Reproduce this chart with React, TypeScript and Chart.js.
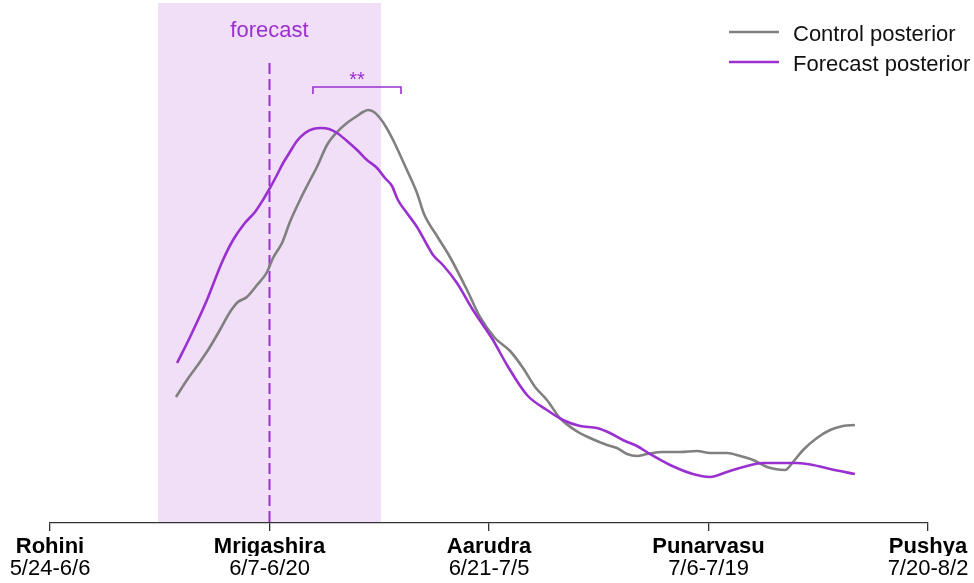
import React, { useEffect, useRef } from "react";
import { Chart, registerables } from "chart.js";

Chart.register(...registerables);

// ---- data ----
const NAKSHATRAS = ["Rohini", "Mrigashira", "Aarudra", "Punarvasu", "Pushya"];
const DATE_RANGES = ["5/24-6/6", "6/7-6/20", "6/21-7/5", "7/6-7/19", "7/20-8/2"];
const SERIES_LABELS = ["Control posterior", "Forecast posterior"];

// x in nakshatra units (0 = Rohini start), y in arbitrary posterior density units
const CONTROL_X = [
  0.574, 0.624, 0.67, 0.72, 0.774, 0.82, 0.856, 0.897, 0.943, 0.989, 1.016, 1.057, 1.093, 1.139,
  1.185, 1.216, 1.262, 1.308, 1.353, 1.399, 1.426, 1.449, 1.476, 1.503, 1.531, 1.563, 1.595, 1.626,
  1.672, 1.704, 1.763, 1.822, 1.9, 1.959, 2.027, 2.096, 2.155, 2.21, 2.264, 2.323, 2.405, 2.46,
  2.538, 2.583, 2.629, 2.674, 2.72, 2.793, 2.87, 2.948, 3.007, 3.084, 3.144, 3.203, 3.267, 3.303,
  3.349, 3.385, 3.431, 3.494, 3.554, 3.613, 3.667,
];
const CONTROL_Y = [
  124, 141, 155, 171, 191, 209, 219, 224, 236, 249, 263, 278, 299, 321,
  341, 354, 376, 389, 398, 405, 409, 411, 409, 403, 394, 381, 366, 351,
  328, 307, 285, 264, 231, 204, 183, 170, 153, 134, 121, 103, 89, 83,
  76, 73, 67, 65, 67, 69, 69, 70, 68, 68, 65, 61, 54, 52,
  51, 59, 71, 83, 91, 95, 96,
];
const FORECAST_X = [
  0.579, 0.638, 0.715, 0.784, 0.834, 0.888, 0.934, 0.97, 1.002, 1.034, 1.062, 1.093, 1.125, 1.162,
  1.198, 1.235, 1.271, 1.308, 1.353, 1.399, 1.444, 1.49, 1.526, 1.558, 1.585, 1.626, 1.672, 1.718,
  1.745, 1.79, 1.854, 1.927, 2.018, 2.082, 2.173, 2.264, 2.337, 2.415, 2.492, 2.551, 2.61, 2.674,
  2.733, 2.825, 2.929, 3.007, 3.084, 3.175, 3.248, 3.326, 3.403, 3.476, 3.554, 3.667,
];
const FORECAST_Y = [
  158, 184, 221, 259, 281, 298, 309, 321, 333, 346, 358, 369, 380, 388,
  392, 393, 392, 388, 380, 371, 361, 353, 343, 335, 321, 308, 294, 276,
  266, 256, 238, 211, 181, 156, 126, 111, 101, 95, 93, 88, 81, 75,
  67, 56, 47, 44, 49, 55, 58, 58, 58, 56, 52, 47,
];

const FORECAST_WINDOW = [0.492, 1.508];
const FORECAST_DATE = 1.0;
const DASH_TOP = 458;
const SIG_BRACKET = [1.198, 1.599];
const SIG_Y = 434;
const SIG_TICK_Y = 427;
const SIG_TEXT_Y = 435;
const FORECAST_TEXT_Y = 484;

// ---- styles ----
const PURPLE = "#9b30d0";
const GRAY = "#808080";
const SHADE = "#f0dff6";
const AXIS = "#333333";
const FONT = "'Liberation Sans', Arial, Helvetica, sans-serif";

const annotationPlugin = {
  id: "annotations",
  beforeDraw(chart: any) {
    const { ctx, chartArea } = chart;
    const x = chart.scales.x;
    const y = chart.scales.y;
    ctx.save();
    const x0 = x.getPixelForValue(FORECAST_WINDOW[0]);
    const x1 = x.getPixelForValue(FORECAST_WINDOW[1]);
    ctx.fillStyle = SHADE;
    ctx.fillRect(x0, chartArea.top, x1 - x0, chartArea.bottom - chartArea.top);
    const xd = x.getPixelForValue(FORECAST_DATE);
    ctx.strokeStyle = PURPLE;
    ctx.lineWidth = 2;
    ctx.setLineDash([11, 5]);
    ctx.beginPath();
    ctx.moveTo(xd, y.getPixelForValue(DASH_TOP));
    ctx.lineTo(xd, chartArea.bottom);
    ctx.stroke();
    ctx.restore();
  },
  afterDatasetsDraw(chart: any) {
    const { ctx } = chart;
    const x = chart.scales.x;
    const y = chart.scales.y;
    ctx.save();
    // "forecast" label
    ctx.fillStyle = PURPLE;
    ctx.font = `22px ${FONT}`;
    ctx.textAlign = "center";
    ctx.textBaseline = "alphabetic";
    ctx.fillText("forecast", x.getPixelForValue(FORECAST_DATE), y.getPixelForValue(FORECAST_TEXT_Y));
    // significance bracket
    const b0 = x.getPixelForValue(SIG_BRACKET[0]);
    const b1 = x.getPixelForValue(SIG_BRACKET[1]);
    const by = y.getPixelForValue(SIG_Y);
    const bt = y.getPixelForValue(SIG_TICK_Y);
    ctx.strokeStyle = PURPLE;
    ctx.lineWidth = 1.6;
    ctx.beginPath();
    ctx.moveTo(b0, bt);
    ctx.lineTo(b0, by);
    ctx.lineTo(b1, by);
    ctx.lineTo(b1, bt);
    ctx.stroke();
    ctx.font = `20px ${FONT}`;
    ctx.fillText("**", (b0 + b1) / 2, y.getPixelForValue(SIG_TEXT_Y));
    // legend
    const colors = [GRAY, PURPLE];
    const rows = [32, 62];
    ctx.textAlign = "left";
    ctx.font = `22px ${FONT}`;
    SERIES_LABELS.forEach((label, i) => {
      ctx.strokeStyle = colors[i];
      ctx.lineWidth = 2.6;
      ctx.beginPath();
      ctx.moveTo(729, rows[i]);
      ctx.lineTo(779, rows[i]);
      ctx.stroke();
      ctx.fillStyle = "#111111";
      ctx.fillText(label, 793, rows[i] + 8.5);
    });
    ctx.restore();
  },
};

export default function App() {
  const canvasRef = useRef<HTMLCanvasElement | null>(null);

  useEffect(() => {
    if (!canvasRef.current) return;
    const chart = new Chart(canvasRef.current, {
      type: "line",
      data: {
        datasets: [
          {
            label: SERIES_LABELS[0],
            data: CONTROL_X.map((v, i) => ({ x: v, y: CONTROL_Y[i] })),
            borderColor: GRAY,
            borderWidth: 2.6,
            pointRadius: 0,
            cubicInterpolationMode: "monotone",
            fill: false,
            order: 2,
          },
          {
            label: SERIES_LABELS[1],
            data: FORECAST_X.map((v, i) => ({ x: v, y: FORECAST_Y[i] })),
            borderColor: PURPLE,
            borderWidth: 2.6,
            pointRadius: 0,
            cubicInterpolationMode: "monotone",
            fill: false,
            order: 1,
          },
        ],
      },
      options: {
        responsive: false,
        animation: false,
        layout: { padding: { left: 50, right: 46, top: 3, bottom: 0 } },
        plugins: {
          legend: { display: false },
          tooltip: { enabled: false },
        },
        scales: {
          x: {
            type: "linear",
            position: "bottom",
            min: 0,
            max: 4,
            weight: 0,
            afterFit: (s: any) => {
              s.height = 33;
            },
            border: { display: true, color: AXIS, width: 1.3 },
            grid: {
              display: true,
              drawOnChartArea: false,
              drawTicks: true,
              tickLength: 8,
              color: AXIS,
              lineWidth: 1.3,
            },
            ticks: {
              stepSize: 1,
              autoSkip: false,
              maxRotation: 0,
              padding: 3,
              color: "#000000",
              font: { family: FONT, size: 22, weight: "bold" },
              callback: (v: any) => NAKSHATRAS[Number(v)] ?? "",
            },
          },
          x2: {
            type: "linear",
            position: "bottom",
            min: 0,
            max: 4,
            weight: 1,
            afterFit: (s: any) => {
              s.height = 27;
            },
            border: { display: false },
            grid: { display: false, drawTicks: false },
            ticks: {
              stepSize: 1,
              autoSkip: false,
              maxRotation: 0,
              padding: 0,
              color: "#000000",
              font: { family: FONT, size: 22 },
              callback: (v: any) => DATE_RANGES[Number(v)] ?? "",
            },
          },
          y: { display: false, min: -2, max: 518 },
        },
      } as any,
      plugins: [annotationPlugin],
    });
    return () => chart.destroy();
  }, []);

  return (
    <div style={{ position: "fixed", left: 0, top: 0, width: 974, height: 583, background: "#fff" }}>
      <canvas ref={canvasRef} width={974} height={583} />
    </div>
  );
}
